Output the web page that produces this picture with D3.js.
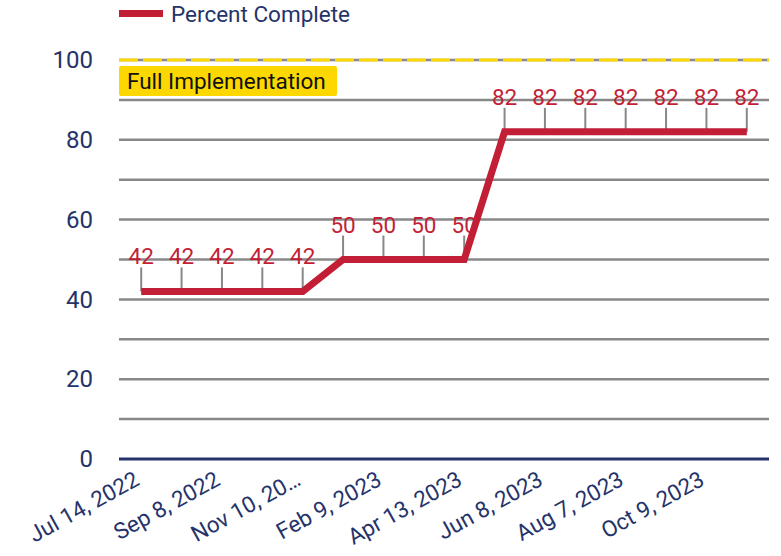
<!DOCTYPE html>
<html>
<head>
<meta charset="utf-8">
<script src="https://cdn.jsdelivr.net/npm/d3@7"></script>
<style>
  body { margin: 0; background: #fff; }
  svg { display: block; font-family: Roboto, sans-serif; }
</style>
</head>
<body>
<div id="vis"></div>
<script>

/* Data */
/* ---- */

var dates = ['Jul 14, 2022', 'Aug 11, 2022', 'Sep 8, 2022', 'Oct 13, 2022', 'Nov 10, 2022', 'Dec 8, 2022',
             'Feb 9, 2023', 'Mar 9, 2023', 'Apr 13, 2023', 'May 11, 2023', 'Jun 8, 2023', 'Jul 13, 2023',
             'Aug 7, 2023', 'Sep 11, 2023', 'Oct 9, 2023', 'Nov 13, 2023'];
var percent = [42, 42, 42, 42, 42, 50, 50, 50, 50, 82, 82, 82, 82, 82, 82, 82];
var tickDates = ['Jul 14, 2022', 'Sep 8, 2022', 'Nov 10, 2022', 'Feb 9, 2023', 'Apr 13, 2023', 'Jun 8, 2023', 'Aug 7, 2023', 'Oct 9, 2023'];
var tickLabels = ['Jul 14, 2022', 'Sep 8, 2022', 'Nov 10, 20\u2026', 'Feb 9, 2023', 'Apr 13, 2023', 'Jun 8, 2023', 'Aug 7, 2023', 'Oct 9, 2023'];
var yTicks = [0, 20, 40, 60, 80, 100];
var yGrid = [10, 20, 30, 40, 50, 60, 70, 80, 90];
var target = 100;
var targetLabel = 'Full Implementation';
var seriesName = 'Percent Complete';

/* Setup */
/* ----- */

var width = 781, height = 556;
var plot = { left: 119, right: 769, top: 60, bottom: 459 };

var navy = '#25336a', red = '#c21f36', gold = '#fcd800', grid = '#888888';

var svg = d3.select('#vis').append('svg')
    .attr('width', width)
    .attr('height', height);

var x = d3.scalePoint().domain(dates).range([plot.left, plot.right]).padding(0.55);
var y = d3.scaleLinear().domain([0, 100]).range([plot.bottom, plot.top]);

// gridlines
svg.append('g').selectAll('line')
    .data(yGrid.concat([target]))
  .enter().append('line')
    .attr('x1', plot.left).attr('x2', plot.right)
    .attr('y1', function(d) { return y(d); })
    .attr('y2', function(d) { return y(d); })
    .attr('stroke', grid)
    .attr('stroke-width', 2.5);

// target line (dashed gold over gray)
svg.append('line')
    .attr('x1', plot.left).attr('x2', plot.right)
    .attr('y1', y(target)).attr('y2', y(target))
    .attr('stroke', gold)
    .attr('stroke-width', 3)
    .attr('stroke-dasharray', '19 5');

// target label
var tl = svg.append('g').attr('transform', 'translate(' + plot.left + ',' + (y(target) + 6) + ')');
tl.append('rect')
    .attr('width', 218).attr('height', 30)
    .attr('rx', 2)
    .attr('fill', gold);
tl.append('text')
    .attr('x', 8).attr('y', 23)
    .attr('font-size', 22.5)
    .attr('fill', '#111')
    .text(targetLabel);

// y axis
var yAxis = svg.append('g')
    .attr('transform', 'translate(' + plot.left + ',0)')
    .call(d3.axisLeft(y).tickValues(yTicks).tickSize(0).tickPadding(26));
yAxis.select('.domain').remove();
yAxis.selectAll('text')
    .attr('font-family', 'Roboto, sans-serif')
    .attr('font-size', 24)
    .attr('fill', navy);

// baseline
svg.append('line')
    .attr('x1', plot.left).attr('x2', plot.right)
    .attr('y1', y(0)).attr('y2', y(0))
    .attr('stroke', navy)
    .attr('stroke-width', 3);

// x axis labels
var xAxis = svg.append('g')
    .attr('transform', 'translate(0,' + y(0) + ')')
    .call(d3.axisBottom(x).tickValues(tickDates).tickSize(0)
      .tickFormat(function(d) { return tickLabels[tickDates.indexOf(d)]; }));
xAxis.select('.domain').remove();
xAxis.selectAll('text')
    .attr('font-family', 'Roboto, sans-serif')
    .attr('font-size', 22.5)
    .attr('fill', navy)
    .attr('text-anchor', 'end')
    .attr('y', 0).attr('dy', 0)
    .attr('transform', 'translate(-1,25) rotate(-29)');

// leader lines
svg.append('g').selectAll('line')
    .data(percent)
  .enter().append('line')
    .attr('x1', function(d, i) { return x(dates[i]); })
    .attr('x2', function(d, i) { return x(dates[i]); })
    .attr('y1', function(d) { return y(d); })
    .attr('y2', function(d) { return y(d) - 24; })
    .attr('stroke', grid)
    .attr('stroke-width', 2);

// series line
var line = d3.line()
    .x(function(d, i) { return x(dates[i]); })
    .y(function(d) { return y(d); });

svg.append('path')
    .datum(percent)
    .attr('d', line)
    .attr('fill', 'none')
    .attr('stroke', red)
    .attr('stroke-width', 7);

// data labels
svg.append('g').selectAll('text')
    .data(percent)
  .enter().append('text')
    .attr('x', function(d, i) { return x(dates[i]); })
    .attr('y', function(d) { return y(d) - 27; })
    .attr('text-anchor', 'middle')
    .attr('font-size', 22.5)
    .attr('fill', red)
    .text(function(d) { return d; });

// legend
var lg = svg.append('g').attr('transform', 'translate(' + plot.left + ',0)');
lg.append('rect')
    .attr('x', 0).attr('y', 10)
    .attr('width', 44).attr('height', 7)
    .attr('fill', red);
lg.append('text')
    .attr('x', 52).attr('y', 22)
    .attr('font-size', 22.5)
    .attr('fill', navy)
    .text(seriesName);

</script>
</body>
</html>
